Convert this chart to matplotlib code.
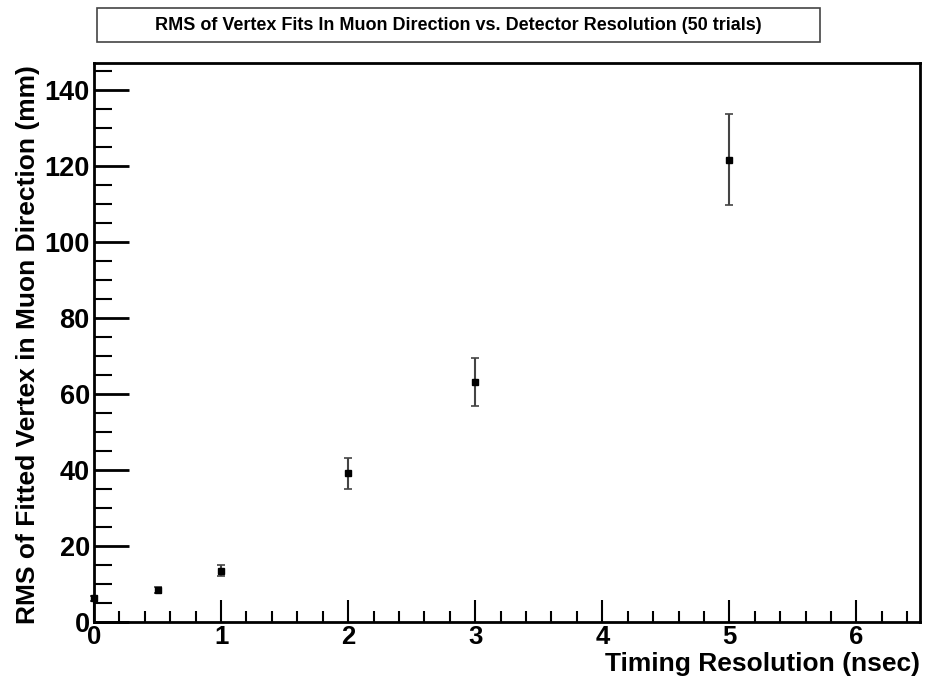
import matplotlib
matplotlib.use("Agg")
import matplotlib.pyplot as plt
from matplotlib.ticker import MultipleLocator
from matplotlib.patches import Rectangle

plt.rcParams["font.family"] = ["Liberation Sans", "DejaVu Sans"]

# timing resolution (nsec) and RMS of fitted vertex (mm)
timing = [0.0, 0.5, 1.0, 2.0, 3.0, 5.0]
rms = [6.2, 8.3, 13.5, 39.1, 63.2, 121.6]
rms_err = [0.6, 0.8, 1.4, 4.0, 6.3, 12.0]

fig = plt.figure(figsize=(9.26, 6.81), dpi=100)
ax = fig.add_axes([94 / 926, 1 - 622 / 681, 826 / 926, 559 / 681])

ax.errorbar(timing, rms, yerr=rms_err, fmt="s", color="black", ms=5,
            ecolor="#444444", elinewidth=1.5, capsize=3, capthick=1.2,
            clip_on=False, zorder=3)

ax.set_xlim(0, 6.5)
ax.set_ylim(0, 147)
ax.xaxis.set_major_locator(MultipleLocator(1))
ax.xaxis.set_minor_locator(MultipleLocator(0.2))
ax.yaxis.set_major_locator(MultipleLocator(20))
ax.yaxis.set_minor_locator(MultipleLocator(5))

ax.tick_params(axis="x", which="major", direction="in", length=16, width=1.5,
               labelsize=18.5, pad=2, top=False)
ax.tick_params(axis="x", which="minor", direction="in", length=8, width=1.5, top=False)
ax.tick_params(axis="y", which="major", direction="in", length=25, width=2,
               labelsize=19.5, pad=3, right=False)
ax.tick_params(axis="y", which="minor", direction="in", length=13, width=1.5, right=False)
for lab in ax.get_xticklabels() + ax.get_yticklabels():
    lab.set_fontweight("bold")

for sp in ax.spines.values():
    sp.set_linewidth(2)

ax.set_xlabel("Timing Resolution (nsec)", fontsize=19, fontweight="bold",
              ha="right", va="baseline")
ax.xaxis.set_label_coords(1.0, -(671 - 622) / 559)
ax.set_ylabel("RMS of Fitted Vertex in Muon Direction (mm)", fontsize=19,
              fontweight="bold", ha="right", va="center")
ax.yaxis.set_label_coords((28 - 94) / 826, (622 - 65) / 559)

# title box
fig.patches.append(Rectangle((97 / 926, 1 - 42 / 681), 723 / 926, 34 / 681,
                             transform=fig.transFigure, facecolor="white",
                             edgecolor="#444444", linewidth=1.2))
fig.text(458 / 926, 1 - 25 / 681,
         "RMS of Vertex Fits In Muon Direction vs. Detector Resolution (50 trials)",
         ha="center", va="center", fontsize=13, fontweight="bold")

fig.savefig("out.png", dpi=100)
